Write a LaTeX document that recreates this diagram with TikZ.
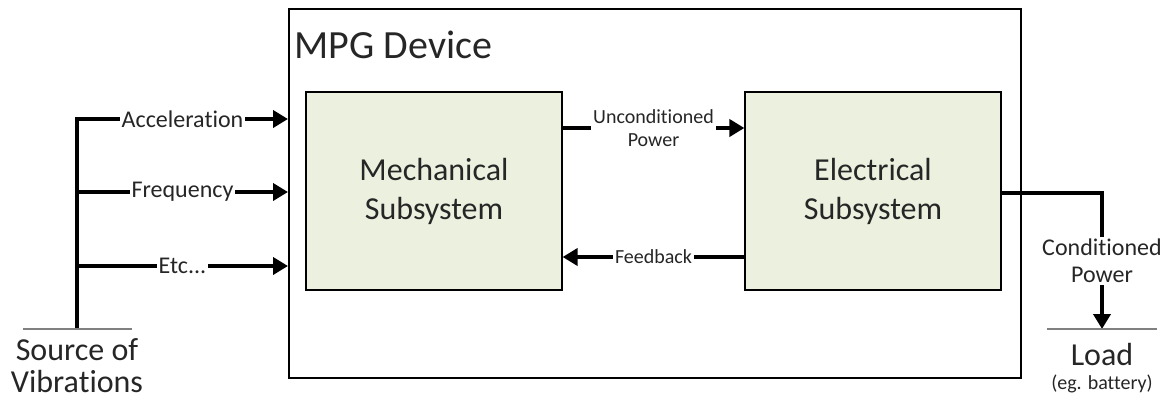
\documentclass[tikz,border=0pt]{standalone}
\usepackage{fontspec}
\setmainfont{Carlito}[Ligatures=NoCommon]
\usepackage{tikz}
\usetikzlibrary{positioning, arrows.meta}

\definecolor{boxgreen}{RGB}{235,241,222}
\definecolor{txtgray}{RGB}{38,38,38}
\newcommand{\etclabel}{Etc...}

\begin{document}
\begin{tikzpicture}[x=1pt, y=-1pt, text=txtgray,
    subsys/.style={draw, fill=boxgreen, line width=1.2pt, minimum width=256pt, minimum height=198pt,
      align=center, font=\fontsize{32}{39}\selectfont},
    wire/.style={line width=4pt},
    flow/.style={line width=4pt, -{Triangle[length=15pt, width=17pt]}},
    tag/.style={fill=white, inner sep=2pt, font=\fontsize{24}{27}\selectfont},
    smalltag/.style={fill=white, inner sep=2pt, font=\fontsize{20}{23}\selectfont},
    ground/.style={gray, line width=1.3pt}
  ]
    \useasboundingbox (0,0) rectangle (1167,399);

    % MPG device box and the two subsystems
    \node[draw, line width=1.5pt, minimum width=732pt, minimum height=369pt, anchor=north west, inner sep=0pt] (device) at (288,8) {};
    \node[anchor=west, font=\fontsize{40}{46}\selectfont] (title) at (291,45) {MPG Device};
    \node[subsys] (mech) at (434,191) {Mechanical\\Subsystem};
    \node[subsys] (elec) at (873,191) {Electrical\\Subsystem};

    % Source of vibrations
    \coordinate (srcTop) at (77,117);
    \coordinate (srcBot) at (77,329);
    \draw[wire] (srcTop) -- (srcBot);
    \draw[ground] (23,329) -- (132,329);
    \node[below, align=center, font=\fontsize{32}{32}\selectfont] (source) at (77,335) {Source of\\Vibrations};

    % Inputs to the mechanical side
    \foreach \y/\lbl in {119/Acceleration, 192/Frequency, 266/\etclabel} {
      \draw[flow] (77,\y) -- node[tag] {\lbl} (device.west |- 0,\y);
    }

    % Power and feedback between subsystems
    \draw[flow] (mech.east |- 0,128) -- node[smalltag, align=center] {Unconditioned\\Power} (elec.west |- 0,128);
    \draw[flow] (elec.west |- 0,257) -- node[smalltag] {Feedback} (mech.east |- 0,257);

    % Output to the load
    \coordinate (loadTop) at (1102,329);
    \draw[flow] (elec.east |- 0,193) -- (1102,193) -- node[tag, align=center] {Conditioned\\Power} (loadTop);
    \draw[ground] (1047,329) -- (1157,329);
    \node[font=\fontsize{32}{32}\selectfont] (load) at (1102,355) {Load};
    \node[font=\fontsize{20}{22}\selectfont] (loadnote) at (1102,384) {(eg. battery)};
\end{tikzpicture}
\end{document}
